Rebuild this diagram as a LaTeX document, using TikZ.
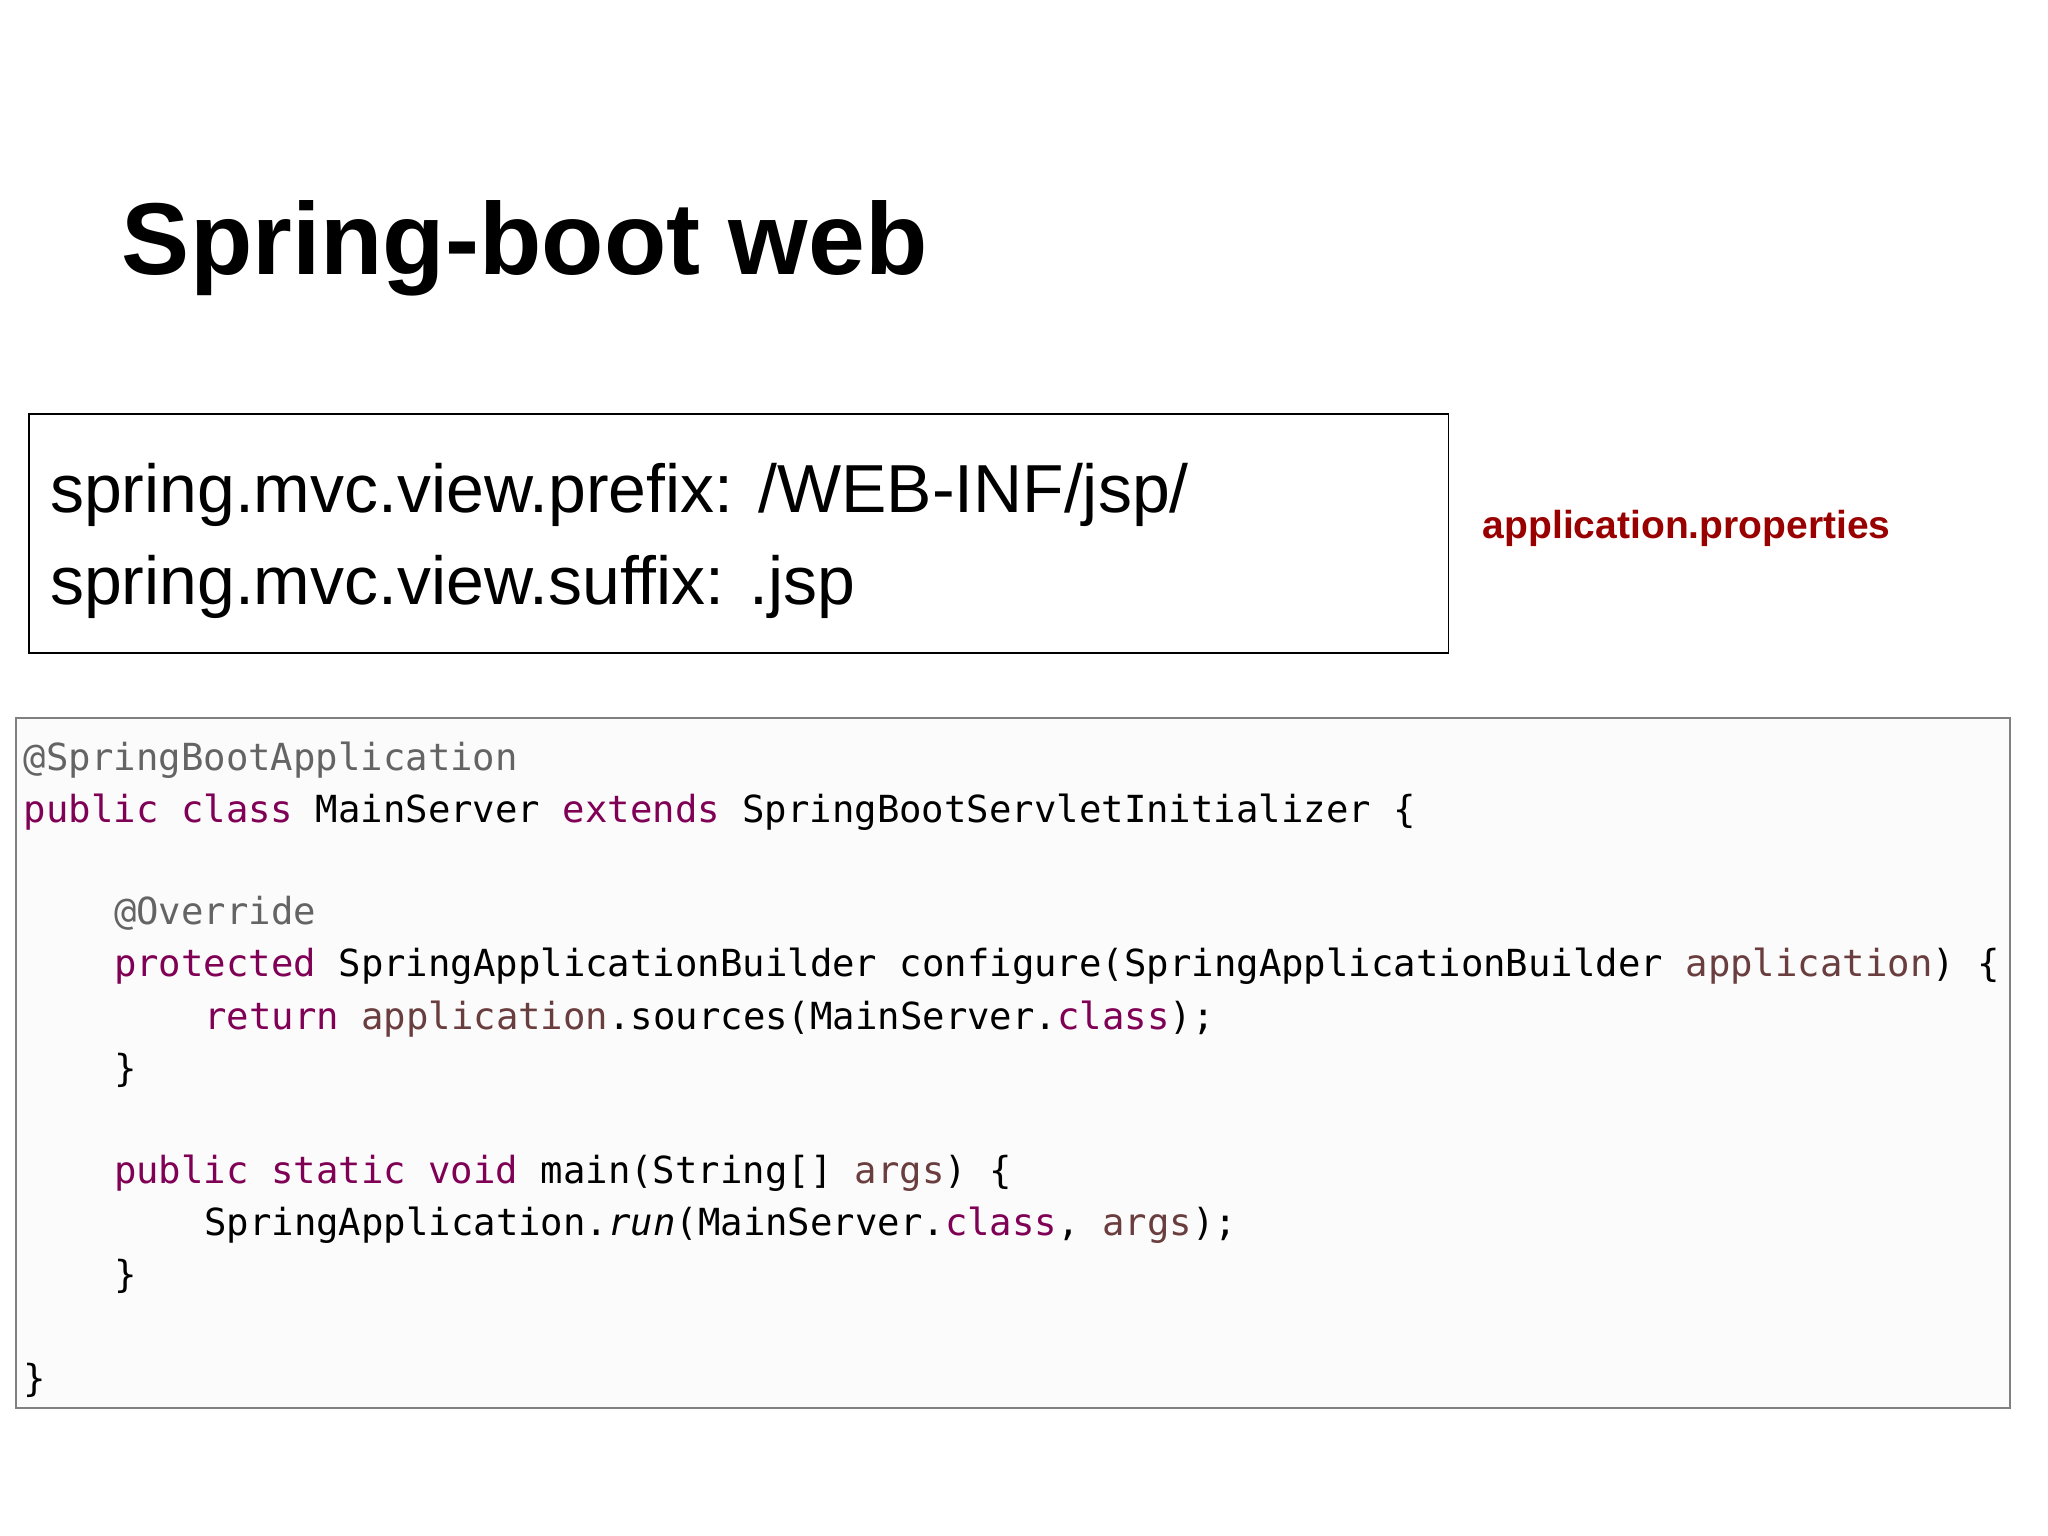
\documentclass[tikz,border=0pt]{standalone}
\usepackage{fontspec}
\setmainfont{Liberation Sans}
\setmonofont{DejaVu Sans Mono}
\definecolor{kw}{HTML}{7F0055}
\definecolor{ann}{HTML}{646464}
\definecolor{var}{HTML}{6A3E3E}
\definecolor{prop}{HTML}{990000}
\newcommand{\K}[1]{\textcolor{kw}{#1}}
\newcommand{\A}[1]{\textcolor{ann}{#1}}
\newcommand{\V}[1]{\textcolor{var}{#1}}
\begin{document}
\begin{tikzpicture}[x=0.02cm,y=-0.02cm,
  code/.style={anchor=base west,inner sep=0,font=\ttfamily\fontsize{16.25}{18}\selectfont},
  prp/.style={anchor=base west,inner sep=0,font=\fontsize{29.6}{36}\selectfont}]
\useasboundingbox (0,0) rectangle (1568,1176);
\node[anchor=base west,inner sep=0,font=\bfseries\fontsize{44.5}{52}\selectfont] (title) at (93,210) {Spring-boot web};
\draw[line width=0.8pt] (22,317) rectangle (1109,500);
\node[prp] (p1) at (38,392) {spring.mvc.view.prefix: /WEB-INF/jsp/};
\node[prp] (p2) at (38,463) {spring.mvc.view.suffix: .jsp};
\node[anchor=base west,inner sep=0,text=prop,font=\bfseries\fontsize{17}{20}\selectfont] (lbl) at (1135,412) {application.properties};
\draw[draw=gray,fill=gray!3,line width=0.8pt] (12,550) rectangle (1539,1078);
\node[code] (c1) at (18,590) {\A{@SpringBootApplication}};
\node[code] (c2) at (18,630) {\K{public} \K{class} MainServer \K{extends} SpringBootServletInitializer \{};
\node[code] (c3) at (87,708) {\A{@Override}};
\node[code] (c4) at (87,748) {\K{protected} SpringApplicationBuilder configure(SpringApplicationBuilder \V{application}) \{};
\node[code] (c5) at (156,788) {\K{return} \V{application}.sources(MainServer.\K{class});};
\node[code] (c6) at (87,828) {\}};
\node[code] (c7) at (87,906) {\K{public} \K{static} \K{void} main(String[] \V{args}) \{};
\node[code] (c8) at (156,946) {SpringApplication.\textit{run}(MainServer.\K{class}, \V{args});};
\node[code] (c9) at (87,986) {\}};
\node[code] (c10) at (18,1065) {\}};
\end{tikzpicture}
\end{document}
